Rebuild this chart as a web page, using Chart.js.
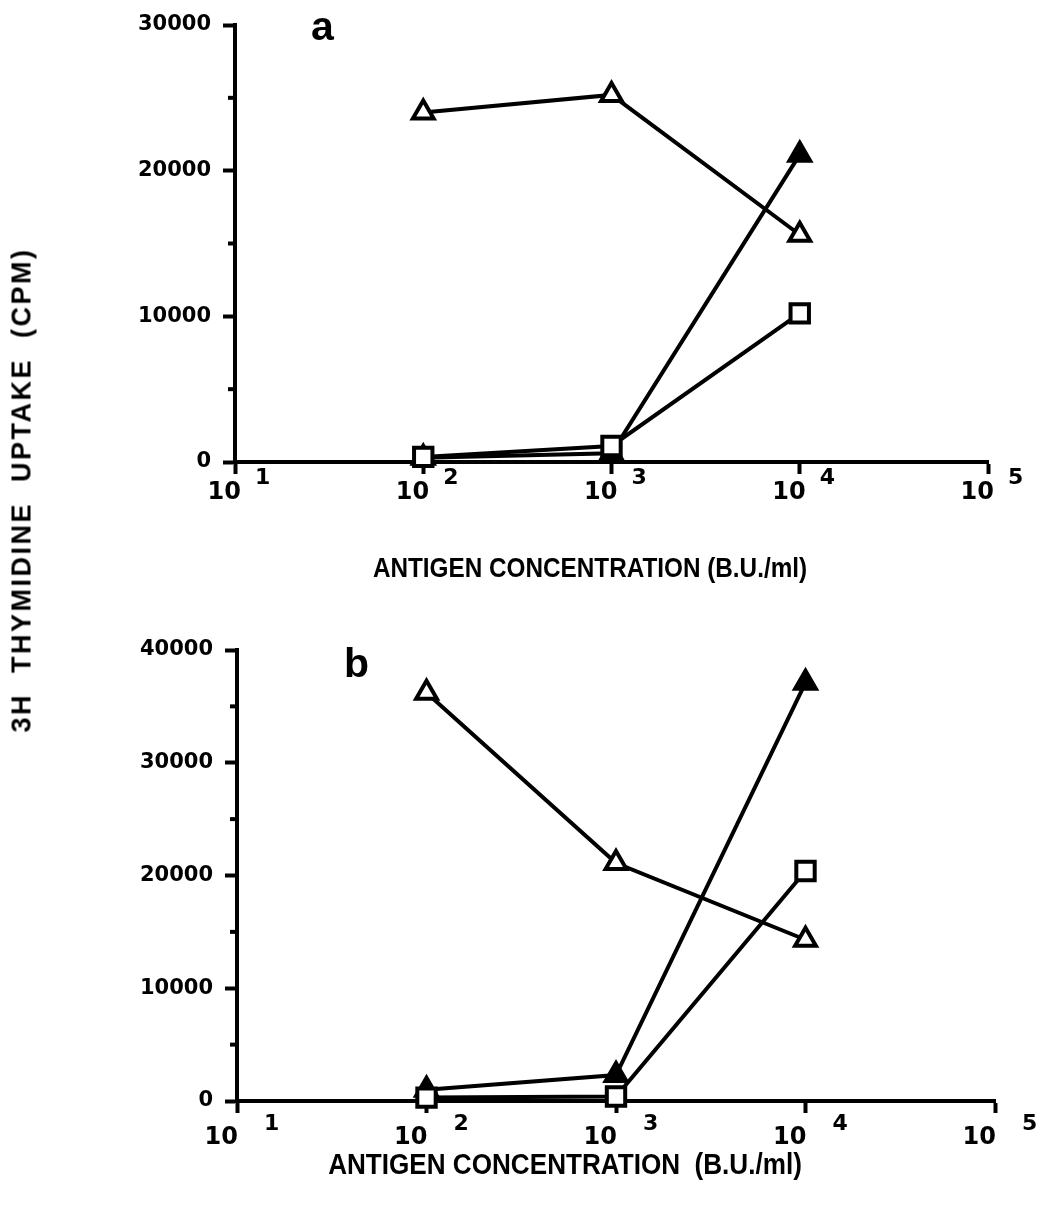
<!DOCTYPE html>
<html><head><meta charset="utf-8">
<script src="https://cdn.jsdelivr.net/npm/chart.js@4.4.0/dist/chart.umd.min.js"></script>
<style>
html,body{margin:0;padding:0;background:#fff;}
body{width:1043px;height:1209px;position:relative;overflow:hidden;font-family:"Liberation Sans",Arial,sans-serif;}
.box{position:absolute;left:0;width:1043px;}
#boxA{top:0;height:600px;}
#boxB{top:600px;height:609px;}
.txt{position:absolute;font-weight:bold;color:#000;white-space:pre;line-height:1;}
#ytitle{left:22px;top:490px;font-size:27px;letter-spacing:2.5px;transform:translate(-50%,-50%) rotate(-90deg);}
#letterA{left:311px;top:6px;font-size:41px;}
#letterB{left:344px;top:643px;font-size:41px;}
#xtitleA{left:590px;top:555px;font-size:27px;transform:translateX(-50%) scaleX(0.9);}
#xtitleB{left:565px;top:1150px;font-size:29px;transform:translateX(-50%) scaleX(0.9);}
</style></head><body>
<div class="box" id="boxA"><canvas id="chartA"></canvas></div>
<div class="box" id="boxB"><canvas id="chartB"></canvas></div>
<div class="txt" id="ytitle">3H  THYMIDINE  UPTAKE  (CPM)</div>
<div class="txt" id="letterA">a</div>
<div class="txt" id="letterB">b</div>
<div class="txt" id="xtitleA">ANTIGEN CONCENTRATION (B.U./ml)</div>
<div class="txt" id="xtitleB">ANTIGEN CONCENTRATION  (B.U./ml)</div>
<script>
// ---- data ----
const concentrations = [100, 1000, 10000];          // B.U./ml
const xTickValues = [10, 100, 1000, 10000, 100000];
const xTickBase = ['10', '10', '10', '10', '10'];
const xTickExp = ['1', '2', '3', '4', '5'];

// panel a
const aOpenTriangle = [24000, 25200, 15600];
const aFilledTriangle = [300, 600, 21100];
const aSquare = [350, 1100, 10200];
const aYTicks = [0, 5000, 10000, 15000, 20000, 25000, 30000];

// panel b
const bOpenTriangle = [36200, 21100, 14300];
const bFilledTriangle = [1000, 2300, 37100];
const bSquare = [300, 400, 20400];
const bYTicks = [0, 5000, 10000, 15000, 20000, 25000, 30000, 35000, 40000];

// ---- drawing ----
const LW = 4;
const decoPlugin = {
  id: 'deco',
  afterDraw(chart, args, opts) {
    const ctx = chart.ctx, xs = chart.scales.x, ys = chart.scales.y;
    ctx.save();
    ctx.strokeStyle = '#000';
    ctx.lineWidth = LW;
    opts.yTicks.forEach(v => {
      if (v % 10000 !== 0) {
        const y = ys.getPixelForValue(v);
        ctx.beginPath(); ctx.moveTo(xs.left - 7, y); ctx.lineTo(xs.left, y); ctx.stroke();
      }
    });
    ctx.fillStyle = '#000';
    ctx.textBaseline = 'middle';
    xTickValues.forEach((v, i) => {
      const x = xs.getPixelForValue(v);
      ctx.font = 'bold 24px "DejaVu Sans"';
      ctx.textAlign = 'right';
      ctx.fillText(xTickBase[i], x + opts.baseDx, ys.bottom + opts.baseDy);
      ctx.font = 'bold 22px "DejaVu Sans"';
      ctx.textAlign = 'left';
      ctx.fillText(xTickExp[i], x + opts.expDx, ys.bottom + opts.expDy);
    });
    ctx.restore();
  }
};

function series(vals) { return concentrations.map((c, i) => ({ x: c, y: vals[i] })); }

function makeChart(id, cfg) {
  const common = { borderColor: '#000', borderWidth: LW, pointBorderWidth: LW, pointBorderColor: '#000', tension: 0, clip: false, pointHoverRadius: 12 };
  return new Chart(document.getElementById(id), {
    type: 'line',
    data: {
      datasets: [
        Object.assign({ data: series(cfg.square), pointStyle: 'rect', pointRadius: 13, pointBackgroundColor: '#fff' }, common),
        Object.assign({ data: series(cfg.filled), pointStyle: 'triangle', pointRadius: 12, pointBackgroundColor: '#000' }, common),
        Object.assign({ data: series(cfg.open), pointStyle: 'triangle', pointRadius: 12, pointBackgroundColor: '#fff' }, common)
      ]
    },
    options: {
      responsive: true, maintainAspectRatio: false, animation: false, devicePixelRatio: 1,
      layout: { padding: { top: cfg.padTop, right: cfg.padRight, left: 0, bottom: 0 } },
      plugins: { legend: { display: false }, tooltip: { enabled: false },
        deco: { yTicks: cfg.yTicks, baseDx: cfg.baseDx, baseDy: cfg.baseDy, expDx: cfg.expDx, expDy: cfg.expDy } },
      scales: {
        x: {
          type: 'logarithmic', min: 10, max: 100000, position: 'bottom',
          afterBuildTicks: s => { s.ticks = xTickValues.map(v => ({ value: v })); },
          afterFit: s => { s.height = cfg.xHeight; },
          ticks: { display: false },
          grid: { display: true, drawOnChartArea: false, drawTicks: true, tickLength: 12, tickWidth: LW, tickColor: '#000', color: '#000' },
          border: { display: true, width: LW, color: '#000' }
        },
        y: {
          type: 'linear', min: 0, max: cfg.yTicks[cfg.yTicks.length - 1], position: 'left',
          afterBuildTicks: s => { s.ticks = cfg.yTicks.map(v => ({ value: v })); },
          afterFit: s => { s.width = cfg.yWidth; },
          ticks: { callback: v => (v % 10000 === 0 ? String(v) : ''), color: '#000', padding: 12,
            font: { family: '"DejaVu Sans"', weight: 'bold', size: 21 } },
          grid: { display: true, drawOnChartArea: false, drawTicks: true, tickLength: 12, tickWidth: LW,
            tickColor: c => (c.tick && c.tick.value % 10000 === 0 ? '#000' : 'rgba(0,0,0,0)'), color: '#000' },
          border: { display: true, width: LW, color: '#000' }
        }
      }
    },
    plugins: [decoPlugin]
  });
}

makeChart('chartA', { open: aOpenTriangle, filled: aFilledTriangle, square: aSquare, yTicks: aYTicks,
  padTop: 25, padRight: 55, yWidth: 235, xHeight: 138, baseDx: 6, baseDy: 31, expDx: 20, expDy: 16 });
makeChart('chartB', { open: bOpenTriangle, filled: bFilledTriangle, square: bSquare, yTicks: bYTicks,
  padTop: 50, padRight: 48, yWidth: 237, xHeight: 108, baseDx: 1, baseDy: 37, expDx: 27, expDy: 23 });
</script>
</body></html>
